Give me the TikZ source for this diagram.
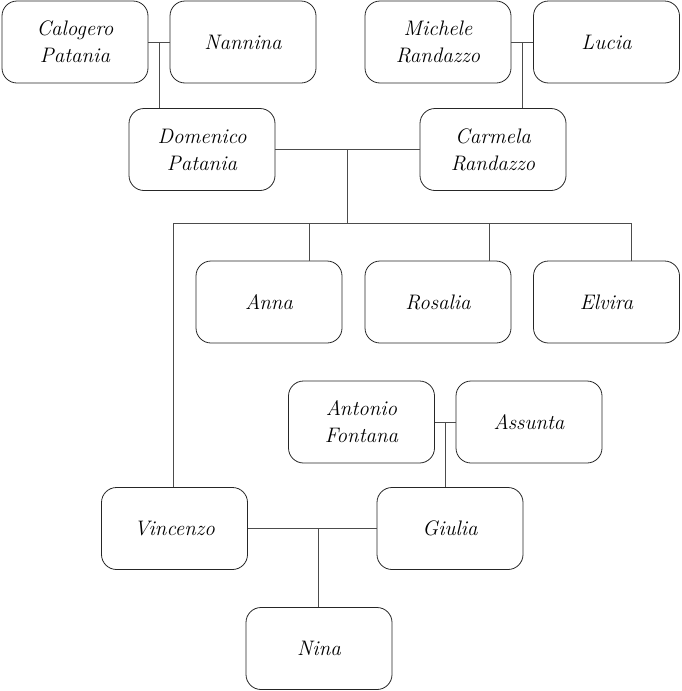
\documentclass[tikz,border=0pt]{standalone}
\begin{document}
\begin{tikzpicture}[x=1pt,y=-1pt,
  person/.style={draw=black!85,line width=0.8pt,rounded corners=15pt,minimum width=146pt,minimum height=82pt,inner sep=0pt,align=center,
    font=\fontsize{21}{27}\selectfont\itshape},
  link/.style={draw=black!70,line width=0.8pt}]
\useasboundingbox (0,0) rectangle (681,691);
\node[person] (cal) at (75,42) {Calogero\\Patania};
\node[person] (nan) at (243,42) {Nannina};
\node[person] (mic) at (438,42) {Michele\\Randazzo};
\node[person] (luc) at (606.5,42) {Lucia};
\node[person] (dom) at (202,149.5) {Domenico\\Patania};
\node[person] (car) at (493,149.5) {Carmela\\Randazzo};
\node[person] (anna) at (269,302) {Anna};
\node[person] (ros) at (438,302) {Rosalia};
\node[person] (elv) at (606.5,302) {Elvira};
\node[person] (ant) at (361.5,422) {Antonio\\Fontana};
\node[person] (ass) at (529,422) {Assunta};
\node[person] (vin) at (174.5,528.5) {Vincenzo};
\node[person] (giu) at (450,528.5) {Giulia};
\node[person] (nina) at (319,648.5) {Nina};
\coordinate (m1) at (159,42);
\coordinate (m2) at (522.5,42);
\coordinate (m3) at (347.5,149.5);
\coordinate (m4) at (445,422);
\coordinate (m5) at (318,528.5);
\coordinate (bar) at (347.5,223);
\coordinate (barL) at (173,223);
\coordinate (barR) at (631,223);
\coordinate (dA) at (309,223);
\coordinate (dR) at (489,223);
\draw[link] (cal) -- (nan);
\draw[link] (m1) -- (dom.north -| m1);
\draw[link] (mic) -- (luc);
\draw[link] (m2) -- (car.north -| m2);
\draw[link] (dom) -- (car);
\draw[link] (m3) -- (bar);
\draw[link] (barL) -- (barR);
\draw[link] (dA) -- (anna.north -| dA);
\draw[link] (dR) -- (ros.north -| dR);
\draw[link] (barR) -- (elv.north -| barR);
\draw[link] (barL) -- (vin.north -| barL);
\draw[link] (ant) -- (ass);
\draw[link] (m4) -- (giu.north -| m4);
\draw[link] (vin) -- (giu);
\draw[link] (m5) -- (nina.north -| m5);
\end{tikzpicture}
\end{document}
